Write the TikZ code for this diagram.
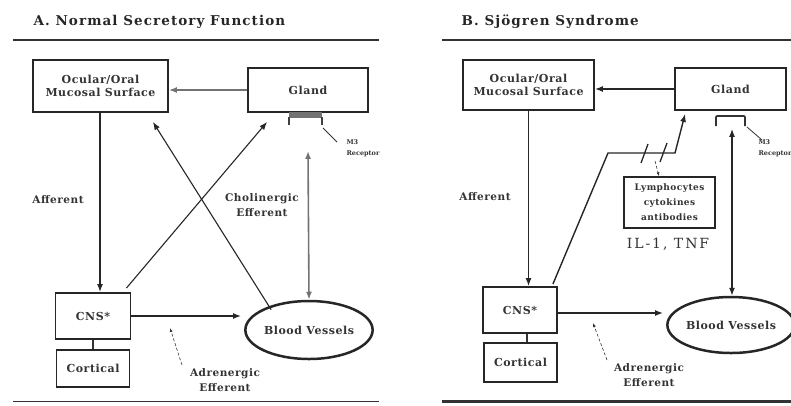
\documentclass[tikz,border=0pt]{standalone}
\usepackage{fontspec}
\setmainfont{DejaVu Serif}
\newfontfamily\ilfont[LetterSpace=14]{DejaVu Serif}
\newfontfamily\boxfont[LetterSpace=5]{DejaVu Serif}
\newfontfamily\ttlfont[LetterSpace=8]{DejaVu Serif}
\usetikzlibrary{arrows.meta,calc,shapes.geometric}
\begin{document}
\begin{tikzpicture}[x=1pt,y=-1pt,
  box/.style={draw=black!85, line width=1.8pt, fill=white, inner sep=2pt, align=center, text=black!80,
    font=\boxfont\bfseries\fontsize{11}{13.5}\selectfont},
  lbl/.style={font=\boxfont\bfseries\fontsize{10.5}{15}\selectfont, align=center, text=black!80},
  tiny/.style={font=\bfseries\fontsize{6.5}{11}\selectfont, align=left, text=black!80, anchor=west},
  ttl/.style={font=\ttlfont\bfseries\fontsize{13.5}{15}\selectfont, anchor=west, text=black!85},
  arr/.style={-{Latex[length=8pt,width=6pt]}, line width=1.3pt, draw=black!85},
  garr/.style={-{Latex[length=8pt,width=6pt]}, line width=1.6pt, draw=black!55},
  darr/.style={{Latex[length=8pt,width=6pt]}-{Latex[length=8pt,width=6pt]}, line width=1.3pt, draw=black!85},
  gdarr/.style={{Latex[length=8pt,width=6pt]}-{Latex[length=8pt,width=6pt]}, line width=1.6pt, draw=black!55},
  ptr/.style={densely dashed, line width=0.6pt, draw=black!80, -{Latex[length=4pt,width=3pt]}},
  thinln/.style={line width=0.8pt, draw=black!80}]
\useasboundingbox (0,0) rectangle (791,405);

% ---------------- Panel A ----------------
\node[ttl] (ta) at (30,22) {A. Normal Secretory Function};
\draw[line width=1.5pt, black!80] (13,40) -- (379,40);

\node[box, minimum width=135pt, minimum height=52pt] (ocA) at (100.5,86) {Ocular/Oral\\Mucosal Surface};
\node[box, minimum width=120pt, minimum height=44pt] (glA) at (308,90) {Gland};
\node[box, minimum width=75pt, minimum height=46pt] (cnsA) at (93,316) {CNS*};
\node[box, minimum width=73pt, minimum height=37pt] (coA) at (93,368.5) {Cortical};
\node[box, ellipse, line width=2.5pt, minimum width=118pt, minimum height=58pt, inner sep=0pt] (bvA) at (309,330) {Blood Vessels};

% receptor bracket
\fill[black!55] (289,112) rectangle (322,118);
\draw[line width=1.2pt, black!75] (289,125) -- (289,117);
\draw[line width=1.2pt, black!75] (322,125) -- (322,117);
\draw[thinln] (323,128) -- (337,142);
\node[tiny] (m3A) at (343,148) {M3\\Receptor};

\draw[garr] (glA.west) -- (glA.west -| ocA.east);
\draw[arr] (ocA.south -| 100,0) -- (cnsA.north -| 100,0);
\draw[line width=1.4pt, black!80] (cnsA.south) -- (coA.north);
\draw[arr, line width=1.8pt] (cnsA.east) -- ($(cnsA.east -| bvA.west)+(-3,0)$);
\draw[gdarr] ($(glA.south)+(0,38)$) -- (bvA.north);
\draw[arr, line width=1.1pt] ($(cnsA.north east)+(-5,-4)$) -- ($(glA.south west)+(20,9)$);
\draw[arr, line width=1.1pt] ($(bvA.north west)+(8,1)$) -- ($(ocA.south east)+(-16,9)$);

\node[lbl] (affA) at (58,200) {Afferent};
\node[lbl] (choA) at (262,205) {Cholinergic\\Efferent};
\node[lbl] (adrA) at (225,380) {Adrenergic\\Efferent};
\draw[ptr] (182,365) -- (170,328);

\draw[line width=1pt, black!80] (13,401) -- (379,401);

% ---------------- Panel B ----------------
\node[ttl] (tb) at (458,22) {B. Sjögren Syndrome};
\draw[line width=2.5pt, black!80] (442,40) -- (791,40);

\node[box, minimum width=131pt, minimum height=50pt] (ocB) at (528.5,85) {Ocular/Oral\\Mucosal Surface};
\node[box, minimum width=111pt, minimum height=42pt] (glB) at (730.5,89) {Gland};
\node[box, minimum width=74pt, minimum height=46pt] (cnsB) at (520,310) {CNS*};
\node[box, minimum width=73pt, minimum height=39pt] (coB) at (520.5,362.5) {Cortical};
\node[box, ellipse, line width=2.5pt, minimum width=116pt, minimum height=56pt, inner sep=0pt] (bvB) at (731,325) {Blood Vessels};
\node[draw=black!85, line width=1.5pt, minimum width=91pt, minimum height=51pt, align=center, inner sep=1pt,
  font=\boxfont\bfseries\fontsize{9}{15}\selectfont, text=black!80] (lyB) at (669.5,202.5) {Lymphocytes\\cytokines\\antibodies};
\node[font=\ilfont\fontsize{14}{15}\selectfont, text=black!80] (ilB) at (668,244) {IL-1, TNF};

% receptor bracket
\draw[line width=1.6pt, black!80, rounded corners=1pt] (716,126) -- (716,116) -- (745,116) -- (745,126);
\draw[thinln] (747,127) -- (762,140);
\node[tiny] (m3B) at (755,148) {M3\\Receptor};

\draw[arr] (glB.west) -- (glB.west -| ocB.east);
\draw[arr] (ocB.south) -- (ocB.south |- cnsB.north);
\draw[line width=1.4pt, black!80] (cnsB.south -| 527,0) -- (coB.north -| 527,0);
\draw[arr, line width=1.6pt] (cnsB.east |- 0,313) -- ($(bvB.west |- 0,313)+(-3,0)$);
\draw[darr] ($(glB.south)+(1.5,18)$) -- (bvB.north -| 732,0);

\coordinate (pb1) at (608,153);
\coordinate (pb2) at (675,153);
\draw[arr, line width=1.4pt] ($(cnsB.north east)+(-5,-2)$) -- (pb1) -- (pb2) -- ($(glB.south west)+(11,3)$);
\draw[line width=1.3pt, black!85] (641,163) -- (648,144);
\draw[line width=1.3pt, black!85] (660,162) -- (667,143);
\draw[ptr] (655,161) -- (lyB.north -| 659,0);

\node[lbl] (affB) at (485,197) {Afferent};
\node[lbl] (adrB) at (649,375) {Adrenergic\\Efferent};
\draw[ptr] (607,360) -- (593,323);

\draw[line width=3pt, black!80] (442,401) -- (791,401);
\end{tikzpicture}
\end{document}
